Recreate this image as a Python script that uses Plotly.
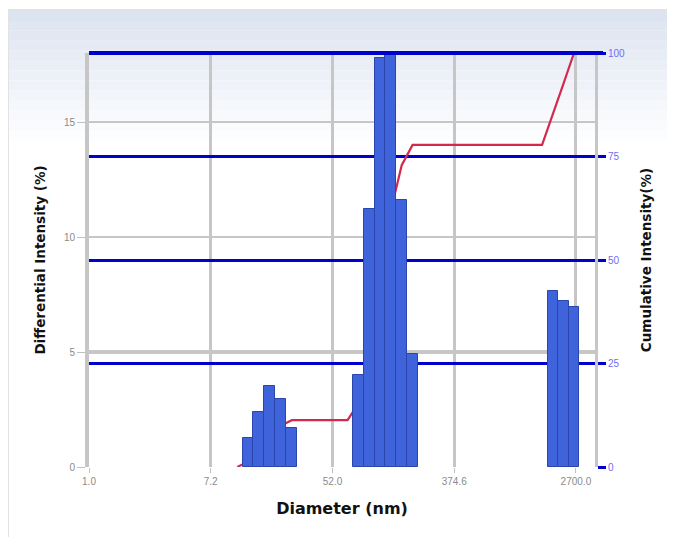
import plotly.graph_objects as go

# ---- data ----
diameter_nm = [13.2, 15.7, 18.8, 22.5, 26.9,
               79.1, 94.4, 112.6, 134.2, 159.9, 190.7,
               1862.0, 2208.0, 2618.0]
differential_pct = [1.27, 2.4, 3.52, 2.96, 1.7,
                    4.0, 11.2, 17.8, 18.0, 11.6, 4.9,
                    7.67, 7.23, 6.97]

cum_diameter_nm = [11.1, 13.2, 15.7, 18.8, 22.5, 26.9, 66.4,
                   79.1, 94.4, 112.6, 134.2, 159.9, 190.7, 1560.0,
                   1862.0, 2208.0, 2618.0]
cumulative_pct = [0.0, 1.3, 3.7, 7.2, 10.0, 11.3, 11.3,
                  15.3, 26.4, 44.0, 62.0, 72.9, 77.8, 77.8,
                  85.2, 92.6, 100.0]

x_tick_vals = [1.0, 7.2, 52.0, 374.6, 2700.0]
x_tick_text = ["1.0", "7.2", "52.0", "374.6", "2700.0"]
left_ticks = [0, 5, 10, 15]
right_ticks = [0, 25, 50, 75, 100]

# ---- layout geometry (pixels); page body adds an 8px offset ----
OFF = 8
W, H = 675 - OFF, 537 - OFF
L, T = 89 - OFF, 53 - OFF
pw, ph = 506, 414
R, B = W - L - pw, H - T - ph

# bar width as a constant step in log10 space
LOG_BIN = 0.0765
ratio = 10 ** (LOG_BIN / 2)
bar_offset = [d / ratio - d for d in diameter_nm]
bar_width = [d * ratio - d / ratio for d in diameter_nm]


def px2paper_x(px):
    return (px - OFF - L) / pw


def px2paper_y(py):
    return (T + ph - (py - OFF)) / ph


fig = go.Figure()

fig.add_trace(go.Scatter(
    x=cum_diameter_nm, y=cumulative_pct, mode="lines",
    line=dict(color="#d22a4e", width=2.2),
    xaxis="x", yaxis="y", showlegend=False, hoverinfo="skip"))

fig.add_trace(go.Bar(
    x=diameter_nm, y=differential_pct, width=bar_width, offset=bar_offset,
    marker=dict(color="#3e63da", line=dict(color="#2a45ac", width=1)),
    xaxis="x", yaxis="y2", showlegend=False))

shapes = []
# background gradient at the top of the panel
top_c = (221, 228, 241)
n = 14
y0px, y1px = 11, 150
for i in range(n):
    t = i / (n - 1)
    c = tuple(int(round(top_c[k] + (255 - top_c[k]) * t)) for k in range(3))
    ya = y0px + (y1px - y0px) * i / n
    yb = y0px + (y1px - y0px) * (i + 1) / n
    shapes.append(dict(type="rect", xref="paper", yref="paper", layer="below",
                       x0=px2paper_x(8), x1=px2paper_x(669),
                       y0=px2paper_y(yb), y1=px2paper_y(ya),
                       line=dict(width=0), fillcolor="rgb(%d,%d,%d)" % c))
# panel border
shapes.append(dict(type="rect", xref="paper", yref="paper", layer="below",
                   x0=px2paper_x(8), x1=px2paper_x(669),
                   y0=px2paper_y(545), y1=px2paper_y(10),
                   line=dict(color="#e2e2e2", width=2), fillcolor="rgba(0,0,0,0)"))
shapes.append(dict(type="rect", xref="paper", yref="paper", layer="below",
                   x0=px2paper_x(669), x1=px2paper_x(676),
                   y0=px2paper_y(545), y1=px2paper_y(10),
                   line=dict(width=0), fillcolor="#e4e4e4"))
# thicker gray band at 5 %
shapes.append(dict(type="line", xref="paper", yref="y2", layer="below",
                   x0=0, x1=1, y0=5, y1=5,
                   line=dict(color="#c8c8c8", width=4)))
# thick blue top line
shapes.append(dict(type="line", xref="paper", yref="paper", layer="above",
                   x0=0, x1=px2paper_x(603), y0=1, y1=1,
                   line=dict(color="#0000cc", width=4)))

TITLE_FONT = "DejaVu Sans, Verdana, sans-serif"

fig.update_layout(
    width=W, height=H,
    margin=dict(l=L, r=R, t=T, b=B, pad=0, autoexpand=False),
    paper_bgcolor="white", plot_bgcolor="rgba(0,0,0,0)",
    font=dict(family="Liberation Sans, Arial, sans-serif", color="#222"),
    bargap=0,
    shapes=shapes,
    xaxis=dict(type="log", range=[0, 3.566],
               tickvals=x_tick_vals, ticktext=x_tick_text,
               tickfont=dict(size=10, color="#8a8a8a"),
               ticks="outside", ticklen=5, tickcolor="#c0c0c0",
               showgrid=True, gridcolor="#c6c6c6", gridwidth=3,
               zeroline=False, showline=False,
               title=dict(text="<b>Diameter (nm)</b>",
                          font=dict(size=16, color="#111", family=TITLE_FONT),
                          standoff=16)),
    yaxis=dict(side="right", range=[0, 100], tickvals=right_ticks,
               tickfont=dict(size=10, color="#6f6ff2"),
               ticks="outside", ticklen=8, tickwidth=3, tickcolor="#0000cc",
               showgrid=True, gridcolor="#0000cc", gridwidth=3,
               zeroline=False, showline=True, linecolor="#c6c6c6", linewidth=3,
               title=dict(text="<b>Cumulative Intensity(%)</b>",
                          font=dict(size=13.5, color="#111", family=TITLE_FONT),
                          standoff=18)),
    yaxis2=dict(overlaying="y", side="left", range=[0, 18], tickvals=left_ticks,
                tickfont=dict(size=10, color="#8a8a8a"),
                ticks="outside", ticklen=8, tickcolor="#c0c0c0",
                showgrid=True, gridcolor="#c6c6c6", gridwidth=2,
                zeroline=False, showline=True, linecolor="#c6c6c6", linewidth=4,
                title=dict(text="<b>Differential Intensity (%)</b>",
                           font=dict(size=13.5, color="#111", family=TITLE_FONT),
                           standoff=16)),
)

fig.write_html("out.html")
